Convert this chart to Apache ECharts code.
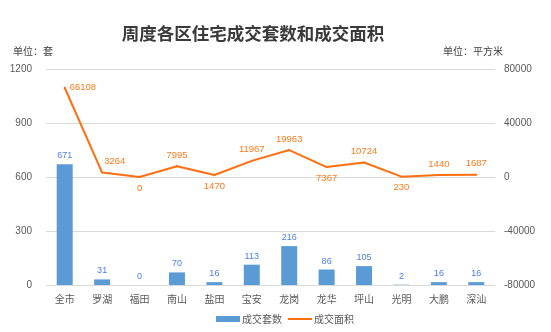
<!DOCTYPE html>
<html>
<head>
<meta charset="utf-8">
<script src="https://cdn.jsdelivr.net/npm/echarts@6/dist/echarts.min.js"></script>
<style>
  html, body { margin: 0; padding: 0; background: #fff; }
  #chart { width: 551px; height: 332px; }
</style>
</head>
<body>
<div id="chart"></div>
<script>
// 各区名称
const districts = ['全市', '罗湖', '福田', '南山', '盐田', '宝安', '龙岗', '龙华', '坪山', '光明', '大鹏', '深汕'];
// 成交套数（套）
const unitsSold = [671, 31, 0, 70, 16, 113, 216, 86, 105, 2, 16, 16];
// 成交面积（平方米）
const areaSold = [66108, 3264, 0, 7995, 1470, 11967, 19963, 7367, 10724, 230, 1440, 1687];
// 面积标签位置：上方、下方或右侧
const areaLabelPos = ['right', 'topRight', 'bottom', 'top', 'bottom', 'top', 'top', 'bottom', 'top', 'bottom', 'top', 'top'];

const chart = echarts.init(document.getElementById('chart'), null, { renderer: 'canvas' });
const axisText = {
  color: '#595959', fontSize: 10, fontFamily: 'Liberation Sans, Arial, sans-serif',
  formatter: v => String(v)
};

function areaLabel(pos) {
  if (pos === 'topRight') {
    return { show: true, position: [3, -15], align: 'left', verticalAlign: 'top' };
  }
  return { show: true, position: pos, distance: pos === 'right' ? 4 : 5 };
}

chart.setOption({
  animation: false,
  backgroundColor: '#fff',
  title: {
    text: '周度各区住宅成交套数和成交面积',
    left: 248,
    textAlign: 'center',
    top: 20,
    textStyle: { fontSize: 17.5, fontWeight: 'bold', color: '#3a3a3a', fontFamily: 'Noto Sans CJK SC' }
  },
  graphic: [
    { type: 'text', left: 13, top: 46, style: { text: '单位：套', fontSize: 10, fill: '#404040', fontFamily: 'Noto Sans CJK SC' } },
    { type: 'text', left: 443, top: 46, style: { text: '单位：平方米', fontSize: 10, fill: '#404040', fontFamily: 'Noto Sans CJK SC' } }
  ],
  legend: {
    bottom: 3,
    left: 211,
    itemGap: 6,
    itemWidth: 24,
    itemHeight: 6,
    textStyle: { color: '#595959', fontSize: 10, fontFamily: 'Noto Sans CJK SC', padding: [0, 0, 0, -3] },
    data: [
      { name: '成交套数', icon: 'rect' },
      { name: '成交面积', icon: 'path://M0,0 L24,0 L24,2 L0,2 Z' }
    ]
  },
  grid: { left: 46, right: 56, top: 69, bottom: 47 },
  xAxis: {
    type: 'category',
    data: districts,
    axisLine: { show: false },
    axisTick: { show: false },
    axisLabel: { color: '#595959', fontSize: 10, margin: 9, fontFamily: 'Noto Sans CJK SC' }
  },
  yAxis: [
    {
      type: 'value', min: 0, max: 1200, interval: 300,
      axisLine: { show: false }, axisTick: { show: false },
      axisLabel: Object.assign({}, axisText, { margin: 14 }),
      splitLine: { lineStyle: { color: '#d9d9d9', width: 1 } }
    },
    {
      type: 'value', min: -80000, max: 80000, interval: 40000,
      axisLine: { show: false }, axisTick: { show: false },
      axisLabel: Object.assign({}, axisText, { margin: 9 }),
      splitLine: { show: false }
    }
  ],
  series: [
    {
      name: '成交套数',
      type: 'bar',
      yAxisIndex: 0,
      data: unitsSold,
      barWidth: 16,
      itemStyle: { color: '#5b9bd5' },
      label: { show: true, position: 'top', distance: 4, color: '#4a7df0', fontSize: 9, fontFamily: 'Liberation Sans, Arial, sans-serif' }
    },
    {
      name: '成交面积',
      type: 'line',
      yAxisIndex: 1,
      data: areaSold.map((v, i) => ({ value: v, label: areaLabel(areaLabelPos[i]) })),
      symbol: 'circle',
      symbolSize: 2,
      showSymbol: true,
      lineStyle: { color: '#ff6f0f', width: 2 },
      itemStyle: { color: '#ff6f0f' },
      label: { show: true, color: '#ff7a1a', fontSize: 9.5, fontFamily: 'Liberation Sans, Arial, sans-serif' },
      labelLayout: { hideOverlap: false }
    }
  ]
});
</script>
</body>
</html>
